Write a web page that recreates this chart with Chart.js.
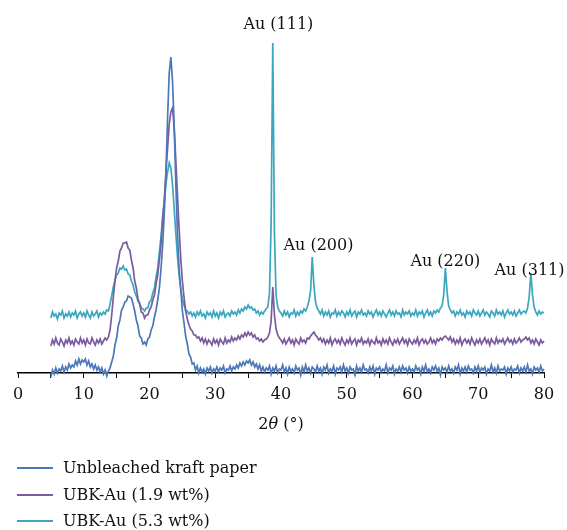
<!DOCTYPE html>
<html>
<head>
<meta charset="utf-8">
<script src="https://cdn.jsdelivr.net/npm/chart.js@4.4.1/dist/chart.umd.min.js"></script>
<style>
  body { margin: 0; background: #fff; }
  #wrap { position: relative; width: 567px; height: 530px; font-family: "DejaVu Serif", serif; color: #111; }
  #xrd { position: absolute; left: 0; top: 0; }
  #xTitle { position: absolute; left: 181px; width: 200px; top: 414px; text-align: center; font-size: 16px; line-height: 20px; }
  .row { position: absolute; left: 0; height: 20px; line-height: 20px; font-size: 16px; white-space: nowrap; }
  .swatch { position: absolute; left: 17px; top: 9px; width: 36px; height: 2px; }
  .row span.txt { position: absolute; left: 63px; top: 0; }
</style>
</head>
<body>
<div id="wrap">
  <canvas id="xrd" width="567" height="530"></canvas>
  <div id="xTitle">2<i>θ</i> (°)</div>
  <div id="legend"></div>
</div>
<script>
// 2theta sampled every 0.25 deg from 5 to 80
const thetaStart = 5;
const thetaStep = 0.25;

const seriesNames = ['Unbleached kraft paper', 'UBK-Au (1.9 wt%)', 'UBK-Au (5.3 wt%)'];
const seriesColors = ['#4a78b8', '#7a5c9e', '#3aa7bf'];

// intensity (a.u., patterns stacked with offsets as in the figure)
const unbleached = [
  -4, 3, -1, 5, 0, 4, 2, 7, 1, 6, 3, 9, 5, 8, 6, 12, 8, 14, 9, 13,
  11, 14, 8, 12, 6, 9, 4, 8, 3, 6, 1, 5, -1, 3, -3, 2, 5, 11, 17, 28,
  35, 47, 53, 63, 66, 71, 72, 77, 76, 75, 69, 62, 53, 47, 37, 35, 29, 31, 28, 34,
  36, 43, 47, 56, 63, 73, 85, 104, 128, 160, 200, 255, 300, 316, 292, 248, 190, 140, 104, 84,
  62, 50, 37, 29, 19, 16, 9, 10, 3, 7, 0, 5, 1, 4, -1, 5, 2, 6, 0, 4,
  2, 6, 1, 5, 3, 7, 0, 4, 3, 7, 2, 6, 4, 8, 5, 10, 7, 11, 8, 12,
  10, 13, 8, 11, 6, 9, 4, 8, 2, 6, 1, 5, 3, 7, -1, 5, 2, 7, 0, 4,
  3, 8, 1, 5, -1, 6, 2, 4, 0, 7, 3, 5, -2, 6, 1, 8, 2, 5, 0, 6,
  4, 1, 7, 2, 5, -1, 6, 3, 8, 0, 4, 2, 7, -1, 5, 3, 6, 1, 8, 2,
  5, 0, 6, 3, 4, -2, 7, 2, 5, 1, 8, 3, 4, 0, 6, 2, 7, -1, 5, 3,
  6, 1, 4, 2, 8, 0, 5, 3, 7, -1, 4, 2, 6, 1, 7, 3, 5, 0, 6, 2,
  4, 1, 7, 3, 5, -1, 6, 2, 8, 1, 4, 0, 6, 3, 7, 2, 5, -2, 6, 3,
  5, 1, 7, 2, 4, 0, 6, 3, 8, -1, 5, 2, 6, 1, 7, 3, 4, 0, 6, 2,
  7, 1, 5, 3, 6, -1, 4, 2, 8, 1, 5, 0, 7, 2, 4, 3, 6, -1, 5, 2,
  6, 1, 4, 3, 7, 0, 5, 2, 6, 1, 8, 2, 4, -1, 6, 3, 5, 1, 7, 2,
  4
];

const ubkAu19 = [
  27, 33, 29, 35, 30, 28, 34, 31, 27, 33, 30, 35, 29, 32, 28, 34, 31, 29, 35, 30,
  33, 28, 34, 30, 29, 35, 31, 28, 33, 30, 34, 29, 32, 35, 33, 36, 43, 58, 76, 92,
  105, 112, 122, 125, 130, 130, 131, 125, 123, 113, 105, 92, 85, 74, 69, 61, 60, 55, 58, 58,
  63, 66, 73, 78, 89, 98, 113, 129, 153, 174, 201, 225, 249, 261, 265, 246, 213, 178, 145, 115,
  92, 76, 62, 54, 48, 44, 42, 38, 38, 35, 36, 32, 35, 30, 34, 29, 33, 31, 28, 34,
  30, 33, 28, 34, 31, 29, 35, 30, 33, 31, 36, 32, 35, 33, 37, 34, 38, 36, 40, 37,
  41, 38, 40, 36, 38, 34, 35, 32, 34, 31, 33, 34, 36, 40, 52, 86, 58, 44, 38, 35,
  33, 30, 34, 29, 32, 35, 30, 33, 28, 34, 31, 29, 35, 31, 33, 30, 35, 34, 37, 39,
  41, 38, 36, 33, 35, 31, 34, 29, 33, 30, 35, 28, 32, 34, 30, 33, 29, 35, 31, 28,
  33, 30, 35, 29, 32, 34, 28, 33, 31, 35, 29, 32, 30, 34, 28, 33, 31, 29, 35, 30,
  32, 28, 34, 30, 33, 29, 35, 31, 28, 33, 30, 34, 29, 32, 35, 30, 33, 28, 34, 31,
  29, 33, 30, 35, 28, 32, 34, 30, 33, 29, 31, 35, 30, 33, 29, 34, 32, 35, 33, 36,
  37, 35, 33, 36, 31, 34, 29, 33, 30, 35, 28, 32, 34, 30, 33, 29, 35, 31, 28, 33,
  30, 34, 29, 32, 35, 30, 33, 28, 34, 31, 29, 35, 30, 33, 31, 34, 29, 32, 35, 31,
  33, 29, 34, 30, 32, 35, 31, 33, 34, 36, 33, 35, 30, 33, 29, 34, 31, 28, 33, 30,
  32
];

const ubkAu53 = [
  55, 61, 57, 59, 54, 60, 58, 62, 55, 59, 57, 61, 56, 60, 58, 62, 55, 59, 61, 57,
  60, 56, 62, 58, 55, 61, 57, 59, 62, 56, 60, 58, 61, 59, 63, 62, 69, 77, 86, 93,
  98, 100, 105, 104, 107, 103, 104, 99, 98, 92, 88, 81, 77, 72, 70, 65, 64, 62, 65, 65,
  71, 73, 80, 85, 96, 105, 121, 136, 156, 171, 189, 201, 210, 205, 188, 165, 140, 117, 98, 84,
  74, 68, 63, 62, 59, 61, 57, 60, 56, 61, 58, 62, 57, 59, 55, 61, 58, 60, 56, 62,
  57, 60, 55, 61, 58, 62, 56, 59, 60, 57, 62, 59, 61, 58, 63, 60, 64, 62, 66, 64,
  68, 65, 66, 63, 64, 60, 62, 58, 61, 59, 62, 64, 66, 80, 150, 330, 140, 78, 66, 62,
  60, 57, 62, 58, 61, 56, 60, 59, 63, 57, 61, 58, 62, 60, 64, 62, 66, 72, 82, 116,
  88, 71, 65, 62, 59, 63, 57, 61, 58, 62, 56, 60, 59, 63, 57, 61, 58, 62, 60, 56,
  61, 58, 63, 57, 60, 62, 56, 61, 59, 63, 58, 60, 57, 62, 59, 61, 56, 60, 63, 58,
  61, 57, 62, 59, 56, 60, 63, 58, 61, 57, 62, 59, 60, 56, 63, 58, 61, 59, 62, 57,
  60, 58, 63, 57, 61, 59, 62, 56, 60, 63, 58, 61, 57, 62, 60, 63, 61, 65, 67, 78,
  105, 82, 67, 63, 60, 62, 57, 61, 59, 63, 58, 60, 56, 62, 59, 61, 57, 63, 60, 58,
  62, 57, 60, 63, 58, 61, 59, 56, 62, 60, 57, 63, 59, 61, 58, 62, 56, 60, 63, 59,
  61, 58, 62, 57, 60, 63, 59, 61, 62, 60, 65, 76, 100, 78, 66, 61, 58, 62, 59, 61,
  60
];

// peak annotations
const peakLabels = ['Au (111)', 'Au (200)', 'Au (220)', 'Au (311)'];
const peakLabelX = [39.6, 45.7, 65.0, 77.8];
const peakLabelY = [348, 127, 111, 102];

const xTicksStep = 5;

function toPoints(values) {
    return values.map((v, i) => ({ x: thetaStart + i * thetaStep, y: v }));
}

const allSeries = [unbleached, ubkAu19, ubkAu53];

const peakLabelPlugin = {
    id: 'peakLabels',
    afterDatasetsDraw(chart) {
        const { ctx, scales } = chart;
        ctx.save();
        ctx.font = '16px "DejaVu Serif"';
        ctx.fillStyle = '#111';
        ctx.textAlign = 'center';
        ctx.textBaseline = 'middle';
        peakLabels.forEach((txt, i) => {
            ctx.fillText(txt, scales.x.getPixelForValue(peakLabelX[i]), scales.y.getPixelForValue(peakLabelY[i]));
        });
        ctx.restore();
    }
};

const data = {
    datasets: allSeries.map((vals, i) => ({
        label: seriesNames[i],
        data: toPoints(vals),
        borderColor: seriesColors[i],
        backgroundColor: seriesColors[i],
        borderWidth: 1.7,
        pointRadius: 0,
        tension: 0,
        clip: false
    }))
};

const config = {
    type: 'line',
    data: data,
    options: {
        responsive: false,
        animation: false,
        layout: { padding: { left: 18, right: 23, top: 23, bottom: 127 } },
        plugins: {
            legend: { display: false },
            tooltip: { enabled: false }
        },
        scales: {
            x: {
                type: 'linear',
                min: 0,
                max: 80,
                afterFit: (scale) => { scale.height = 30; },
                border: { display: true, color: '#000', width: 1.5 },
                grid: { drawOnChartArea: false, drawTicks: true, tickLength: 5, color: '#000', lineWidth: 1 },
                ticks: {
                    stepSize: xTicksStep,
                    autoSkip: false,
                    maxRotation: 0,
                    padding: 7,
                    color: '#111',
                    font: { family: 'DejaVu Serif', size: 16 },
                    callback: (v) => (v % 10 === 0 ? v : '')
                }
            },
            y: {
                display: false,
                min: 0,
                max: 350
            }
        }
    },
    plugins: [peakLabelPlugin]
};

const myChart = new Chart(document.getElementById('xrd'), config);

// legend below the plot, one row per series
const legendTops = [458, 485, 511];
const legendBox = document.getElementById('legend');
seriesNames.forEach((name, i) => {
    const row = document.createElement('div');
    row.className = 'row';
    row.style.top = legendTops[i] + 'px';
    const sw = document.createElement('span');
    sw.className = 'swatch';
    sw.style.background = seriesColors[i];
    const label = document.createElement('span');
    label.className = 'txt';
    label.textContent = name;
    row.appendChild(sw);
    row.appendChild(label);
    legendBox.appendChild(row);
});
</script>
</body>
</html>
